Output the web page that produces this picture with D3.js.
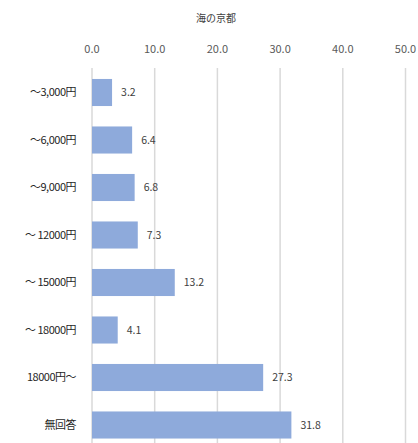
<html lang="ja">
<head>
<meta charset="utf-8">
<script src="https://d3js.org/d3.v7.min.js"></script>
<style>
  body { margin: 0; background: #fff; font-family: "Noto Sans CJK JP", sans-serif; }
  .grid line { stroke: #d9d9d9; stroke-width: 1.5; }
  .tick-label { fill: #595959; font-size: 11px; }
  .cat-label { fill: #262626; font-size: 11px; letter-spacing: -0.5px; }
  .val-label { fill: #404040; font-size: 10.5px; }
</style>
</head>
<body>
<div class="main"></div>
<script>
var title = "海の京都"
var categories = ["～3,000円", "～6,000円", "～9,000円", "～ 12000円", "～ 15000円", "～ 18000円", "18000円～", "無回答"]
var values = [3.2, 6.4, 6.8, 7.3, 13.2, 4.1, 27.3, 31.8]
var ticks = [0, 10, 20, 30, 40, 50]

var width = 418
var height = 443

var svg = d3.select(".main").append("svg")
  .attr("width", width)
  .attr("height", height)

var x = d3.scaleLinear().domain([0, 50]).range([92, 405.5])
var y = d3.scaleBand().domain(categories).range([68.75, 448.75]).paddingInner(0.43).paddingOuter(0.215)

// title
svg.append("text")
  .attr("x", 216).attr("y", 22)
  .attr("text-anchor", "middle")
  .attr("fill", "#404040")
  .style("font-size", "10px")
  .text(title)

// gridlines
svg.append("g").attr("class", "grid")
  .selectAll("line").data(ticks).enter().append("line")
  .attr("x1", d => x(d)).attr("x2", d => x(d))
  .attr("y1", 68).attr("y2", height)

// tick labels
svg.append("g").selectAll("text").data(ticks).enter().append("text")
  .attr("class", "tick-label")
  .attr("x", d => x(d)).attr("y", 53)
  .attr("text-anchor", "middle")
  .text(d => d.toFixed(1))

// bars
svg.append("g").selectAll("rect").data(values).enter().append("rect")
  .attr("x", x(0))
  .attr("y", (d, i) => y(categories[i]))
  .attr("width", d => x(d) - x(0))
  .attr("height", y.bandwidth())
  .attr("fill", "#8eaadb")

// value labels
svg.append("g").selectAll("text").data(values).enter().append("text")
  .attr("class", "val-label")
  .attr("x", d => x(d) + 9)
  .attr("y", (d, i) => y(categories[i]) + y.bandwidth() / 2)
  .attr("dy", "0.35em")
  .text(d => d.toFixed(1))

// category labels
svg.append("g").selectAll("text").data(categories).enter().append("text")
  .attr("class", "cat-label")
  .attr("x", 76)
  .attr("y", d => y(d) + y.bandwidth() / 2)
  .attr("dy", "0.35em")
  .attr("text-anchor", "end")
  .text(d => d)
</script>
</body>
</html>
